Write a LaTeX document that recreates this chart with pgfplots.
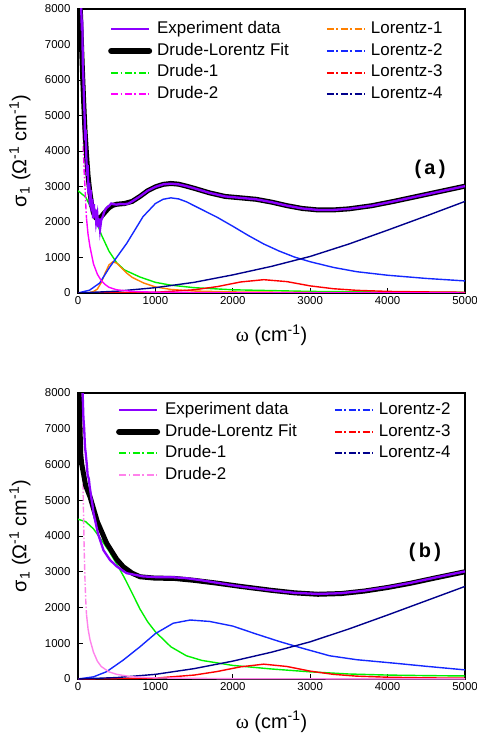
\documentclass[border=0pt]{standalone}
\usepackage{fontspec}
\setmainfont{Liberation Sans}
\newfontfamily\serif{Liberation Serif}
\usepackage{pgfplots}
\pgfplotsset{compat=1.18}
\definecolor{expc}{RGB}{140,0,255}
\definecolor{lblue}{RGB}{20,40,255}
\definecolor{navyc}{RGB}{0,0,140}
\definecolor{orangec}{RGB}{255,128,0}
\definecolor{greenc}{RGB}{0,240,0}
\definecolor{magc}{RGB}{255,0,255}
\definecolor{pinkc}{RGB}{255,130,235}
\pgfplotsset{
  panel/.style={
    scale only axis, width=387bp,
    xmin=0, xmax=5000, ymin=0, ymax=8000,
    xtick={0,1000,...,5000}, ytick={0,1000,...,8000},
    tick align=inside, xtick pos=bottom, ytick pos=left,
    major tick length=5bp,
    tick style={black, line width=0.9bp},
    axis line style={line width=1.6bp},
    /pgf/number format/assume math mode=true,
    /pgf/number format/1000 sep={},
    tick label style={font=\fontsize{11.5}{13}\selectfont},
    yticklabel style={xshift=-4bp},
    xlabel={{\serif ω} (cm\textsuperscript{-1})},
    ylabel={σ\textsubscript{1} (Ω\textsuperscript{-1} cm\textsuperscript{-1})},
    label style={font=\fontsize{20}{24}\selectfont},
    ylabel style={at={(axis description cs:-0.15,0.5)}, anchor=center},
    legend columns=2,
    legend cell align=left,
    legend style={draw=none, fill=none, inner sep=0pt,
      font=\fontsize{17}{20}\selectfont,
      nodes={inner xsep=0bp, inner ysep=2.85bp, text height=12bp, text depth=4bp},
      /tikz/column sep=5bp,
      /tikz/every even column/.append style={column sep=37bp}},
    legend image code/.code={\draw[#1] (0bp,0.25bp) -- (38bp,0.25bp);},
    comp/.style={line width=1.4bp},
    ldd/.style={line width=2bp, dash pattern=on 7bp off 2.5bp on 1.8bp off 2.5bp},
  }
}
\begin{document}
\begin{tikzpicture}[x=1bp,y=1bp]
\path[use as bounding box] (0,0) rectangle (477,738);
%%%%%%%%%%%%%%%% panel (a)
\begin{axis}[panel, at={(78bp,445bp)}, anchor=south west, height=284bp,
  xlabel style={at={(axis description cs:0.5,-0.148)}, anchor=center},
  legend style={at={(axis description cs:0.0775,0.967)}, anchor=north west}]
\addlegendimage{color=expc, line width=2bp}
\addlegendentry{Experiment data}
\addlegendimage{color=orangec, ldd}
\addlegendentry{Lorentz-1}
\addlegendimage{color=black, line width=6bp, line cap=round}
\addlegendentry{Drude-Lorentz Fit}
\addlegendimage{color=lblue, ldd}
\addlegendentry{Lorentz-2}
\addlegendimage{color=greenc, ldd}
\addlegendentry{Drude-1}
\addlegendimage{color=red, ldd}
\addlegendentry{Lorentz-3}
\addlegendimage{color=magc, ldd}
\addlegendentry{Drude-2}
\addlegendimage{color=navyc, ldd}
\addlegendentry{Lorentz-4}
% components
\addplot[comp, greenc, forget plot] coordinates {(0,2880)(100,2700)(200,2250)(300,1650)(400,1180)(500,850)(600,650)(800,450)(1000,300)(1200,220)(1500,150)(2000,90)(3000,45)(4000,25)(5000,15)};
\addplot[comp, orangec, forget plot] coordinates {(0,0)(150,10)(200,40)(250,110)(300,290)(350,560)(400,790)(450,880)(500,840)(550,730)(630,560)(700,440)(850,280)(1000,170)(1200,100)(1500,55)(2000,30)(3000,15)(5000,8)};
\addplot[comp, lblue, forget plot] coordinates {(0,0)(150,80)(280,280)(410,730)(630,1400)(840,2150)(1000,2520)(1100,2640)(1200,2680)(1300,2650)(1400,2570)(1600,2350)(1800,2130)(2000,1880)(2200,1620)(2400,1380)(2600,1180)(2800,1010)(3000,880)(3300,720)(3600,600)(4000,500)(4500,410)(5000,340)};
\addplot[comp, red, forget plot] coordinates {(0,0)(1000,20)(1500,90)(1800,180)(2100,310)(2400,375)(2700,320)(3000,200)(3300,120)(3600,75)(4000,45)(4500,30)(5000,20)};
\addplot[comp, navyc, forget plot] coordinates {(0,0)(500,50)(1000,150)(1500,300)(2000,510)(2500,750)(3000,1030)(3500,1380)(4000,1770)(4500,2170)(5000,2580)};
\addplot[comp, magc, dash pattern=on 6bp off 2bp on 1.5bp off 2bp, forget plot] coordinates {(20,9000)(35,8500)(50,7500)(60,5800)(70,4000)(80,3400)(90,3000)(100,2500)(110,2100)};
\addplot[comp, magc, forget plot] coordinates {(110,2100)(130,1650)(155,1300)(200,820)(250,530)(300,350)(350,240)(400,160)(500,90)(700,45)(1000,22)(2000,6)(5000,1)};
% fit and data
\addplot[black, line width=5bp, forget plot] coordinates {(15,9000)(30,8000)(45,7000)(60,6100)(75,5300)(90,4600)(110,3900)(130,3300)(150,2900)(175,2500)(200,2250)(230,2120)(260,2100)(300,2150)(350,2280)(400,2400)(450,2470)(500,2500)(600,2520)(700,2580)(800,2720)(900,2880)(1000,2990)(1100,3060)(1200,3085)(1300,3065)(1400,3010)(1500,2950)(1700,2820)(1900,2720)(2100,2680)(2300,2640)(2500,2560)(2700,2460)(2900,2380)(3100,2340)(3300,2340)(3500,2370)(3800,2460)(4100,2590)(4400,2730)(4700,2870)(5000,3010)};
\addplot[expc, line width=2.3bp, forget plot] coordinates {(25,9000)(40,8100)(50,7400)(55,7700)(62,6500)(70,6000)(78,5400)(85,5000)(92,4300)(100,4600)(108,3800)(118,3300)(125,3600)(135,2800)(145,3100)(155,2450)(165,2900)(175,2300)(185,2650)(195,2100)(205,2500)(215,2150)(225,2350)(235,2000)(250,2200)(262,1850)(275,2100)(285,1800)(300,2050)(320,2150)(340,2300)(370,2400)(400,2450)(430,2520)(460,2500)(500,2490)(550,2510)(600,2500)(650,2520)(700,2580)(800,2720)(900,2880)(1000,2990)(1100,3060)(1200,3080)(1300,3060)(1400,3010)(1500,2950)(1700,2820)(1900,2720)(2100,2680)(2300,2640)(2500,2560)(2700,2460)(2900,2380)(3100,2340)(3300,2340)(3500,2370)(3800,2460)(4100,2590)(4400,2730)(4700,2870)(5000,3010)};
\node[font=\bfseries\fontsize{20}{24}\selectfont] at (axis cs:4548,3493) {(\,a\,)};
\end{axis}
%%%%%%%%%%%%%%%% panel (b)
\begin{axis}[panel, at={(78bp,59bp)}, anchor=south west, height=286bp,
  xlabel style={at={(axis description cs:0.5,-0.15)}, anchor=center},
  legend style={at={(axis description cs:0.098,0.978)}, anchor=north west}]
\addlegendimage{color=expc, line width=2bp}
\addlegendentry{Experiment data}
\addlegendimage{color=lblue, ldd}
\addlegendentry{Lorentz-2}
\addlegendimage{color=black, line width=6bp, line cap=round}
\addlegendentry{Drude-Lorentz Fit}
\addlegendimage{color=red, ldd}
\addlegendentry{Lorentz-3}
\addlegendimage{color=greenc, ldd}
\addlegendentry{Drude-1}
\addlegendimage{color=navyc, ldd}
\addlegendentry{Lorentz-4}
\addlegendimage{color=pinkc, ldd}
\addlegendentry{Drude-2}
% components
\addplot[comp, greenc, forget plot] coordinates {(0,4470)(100,4400)(200,4200)(300,3900)(400,3580)(500,3220)(600,2830)(700,2400)(800,1960)(900,1600)(1000,1320)(1200,900)(1400,650)(1600,520)(1800,450)(2000,380)(2500,280)(3000,200)(3500,140)(4000,110)(4500,95)(5000,85)};
\addplot[comp, lblue, forget plot] coordinates {(0,0)(200,60)(370,205)(585,530)(800,900)(1000,1270)(1230,1560)(1450,1650)(1700,1610)(2000,1480)(2300,1260)(2600,1050)(2900,860)(3250,650)(3600,540)(4100,440)(4500,355)(5000,255)};
\addplot[comp, red, forget plot] coordinates {(0,0)(1000,25)(1500,110)(1800,210)(2100,340)(2400,415)(2700,350)(3000,220)(3300,130)(3600,80)(4000,50)(4500,32)(5000,22)};
\addplot[comp, navyc, forget plot] coordinates {(0,0)(500,40)(1000,130)(1500,290)(2000,500)(2500,750)(3000,1040)(3500,1400)(4000,1790)(4500,2190)(5000,2590)};
\addplot[comp, pinkc, dash pattern=on 6bp off 2bp on 1.5bp off 2bp, forget plot] coordinates {(25,9000)(40,8000)(55,6500)(70,4800)(80,3600)(90,2800)(100,2200)(110,1800)};
\addplot[comp, pinkc, forget plot] coordinates {(110,1800)(130,1400)(155,1100)(200,750)(250,500)(300,350)(400,200)(500,130)(700,60)(1000,30)(2000,8)(5000,2)};
% fit and data
\addplot[black, line width=5bp, forget plot] coordinates {(5,9000)(20,7500)(35,6300)(47,6030)(100,5400)(155,5100)(250,4400)(370,3800)(500,3350)(585,3140)(700,2960)(801,2860)(1000,2820)(1231,2816)(1500,2760)(1800,2680)(2100,2590)(2500,2480)(2800,2410)(3100,2370)(3400,2390)(3700,2460)(4000,2560)(4300,2680)(4600,2820)(5000,3000)};
\addplot[expc, line width=2.3bp, forget plot] coordinates {(50,9000)(60,8000)(70,7300)(80,7000)(90,6500)(100,6300)(112,6040)(125,5700)(140,5600)(150,5400)(170,5100)(185,4900)(200,4650)(230,4350)(260,4050)(284,3900)(330,3600)(413,3330)(500,3150)(628,2960)(840,2870)(1000,2850)(1200,2850)(1400,2820)(1600,2760)(1800,2690)(2000,2620)(2200,2560)(2500,2480)(2800,2410)(3100,2380)(3400,2400)(3700,2470)(4000,2570)(4300,2690)(4600,2830)(5000,3010)};
\node[font=\bfseries\fontsize{20}{24}\selectfont] at (axis cs:4483,3552) {(\,b\,)};
\end{axis}
\end{tikzpicture}
\end{document}
